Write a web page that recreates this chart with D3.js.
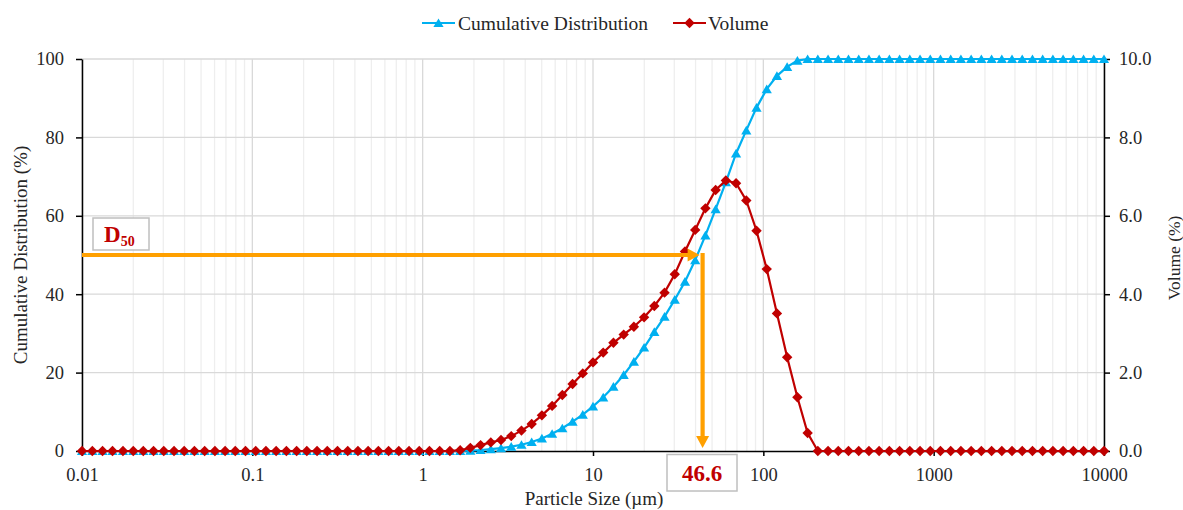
<!DOCTYPE html>
<html>
<head>
<meta charset="utf-8">
<script src="https://cdn.jsdelivr.net/npm/d3@7"></script>
<style>
  html, body { margin: 0; padding: 0; background: #ffffff; }
  svg { display: block; }
  text { font-family: "Liberation Serif", "Times New Roman", serif; fill: #262626; }
</style>
</head>
<body>
<svg id="chart" width="1183" height="510"></svg>
<script>
// ---------------- DATA ----------------
const sizes = [
  0.0100, 0.0115, 0.0132, 0.0151, 0.0174, 0.0200, 0.0229, 0.0263, 0.0302, 0.0347,
  0.0398, 0.0457, 0.0525, 0.0603, 0.0692, 0.0794, 0.0912, 0.1047, 0.1202, 0.1380,
  0.1585, 0.1820, 0.2089, 0.2399, 0.2754, 0.3162, 0.3631, 0.4169, 0.4786, 0.5495,
  0.6310, 0.7244, 0.8318, 0.9550, 1.096, 1.259, 1.445, 1.660, 1.905, 2.188,
  2.512, 2.884, 3.311, 3.802, 4.365, 5.012, 5.754, 6.607, 7.586, 8.710,
  10.00, 11.48, 13.18, 15.14, 17.38, 19.95, 22.91, 26.30, 30.20, 34.67,
  39.81, 45.71, 52.48, 60.26, 69.18, 79.43, 91.20, 104.7, 120.2, 138.0,
  158.5, 182.0, 208.9, 239.9, 275.4, 316.2, 363.1, 416.9, 478.6, 549.5,
  631.0, 724.4, 831.8, 955.0, 1096, 1259, 1445, 1660, 1905, 2188,
  2512, 2884, 3311, 3802, 4365, 5012, 5754, 6607, 7586, 8710,
  10000
];

const volume = [
  0, 0, 0, 0, 0, 0, 0, 0, 0, 0,
  0, 0, 0, 0, 0, 0, 0, 0, 0, 0,
  0, 0, 0, 0, 0, 0, 0, 0, 0, 0,
  0, 0, 0, 0, 0, 0, 0, 0.02, 0.08, 0.15,
  0.22, 0.28, 0.38, 0.52, 0.69, 0.91, 1.15, 1.43, 1.71, 1.98,
  2.26, 2.51, 2.76, 2.97, 3.17, 3.41, 3.70, 4.04, 4.51, 5.09,
  5.64, 6.19, 6.66, 6.90, 6.83, 6.39, 5.62, 4.64, 3.51, 2.39,
  1.37, 0.46, 0, 0, 0, 0, 0, 0, 0, 0,
  0, 0, 0, 0, 0, 0, 0, 0, 0, 0,
  0, 0, 0, 0, 0, 0, 0, 0, 0, 0,
  0
];

const cumulative = [
  0, 0, 0, 0, 0, 0, 0, 0, 0, 0,
  0, 0, 0, 0, 0, 0, 0, 0, 0, 0,
  0, 0, 0, 0, 0, 0, 0, 0, 0, 0,
  0, 0, 0, 0, 0, 0, 0, 0.02, 0.1, 0.25,
  0.47, 0.75, 1.1, 1.6, 2.3, 3.2, 4.4, 5.8, 7.5, 9.3,
  11.4, 13.7, 16.4, 19.4, 22.8, 26.4, 30.4, 34.3, 38.6, 43.2,
  48.7, 55.0, 61.7, 68.6, 75.9, 81.8, 87.6, 92.3, 95.7, 98.0,
  99.6, 100, 100, 100, 100, 100, 100, 100, 100, 100,
  100, 100, 100, 100, 100, 100, 100, 100, 100, 100,
  100, 100, 100, 100, 100, 100, 100, 100, 100, 100,
  100
];

const xTicks = [0.01, 0.1, 1, 10, 100, 1000, 10000];
const xTickLabels = ["0.01", "0.1", "1", "10", "100", "1000", "10000"];
const leftTicks = [0, 20, 40, 60, 80, 100];
const rightTicks = [0, 2, 4, 6, 8, 10];
const seriesNames = ["Cumulative Distribution", "Volume"];
const d50Value = 46.6;     // label value
const d50Level = 50;       // cumulative level
const d50ArrowAt = 44;     // where the drawn arrow sits on the x axis

// ---------------- LAYOUT ----------------
const L = 82, R = 1104, T = 59, B = 451;
const BLUE = "#00b0f0", RED = "#c00000", ORANGE = "#ffa000";
const FONT = '"Liberation Serif", "Times New Roman", serif';

const svg = d3.select("#chart");

const x = d3.scaleLog().domain([0.01, 10000]).range([L, R]);
const yL = d3.scaleLinear().domain([0, 100]).range([B, T]);
const yR = d3.scaleLinear().domain([0, 10]).range([B, T]);

// ---------------- GRID ----------------
const grid = svg.append("g");
const minorVals = [];
const majorVals = [];
xTicks.forEach((d, i) => {
  majorVals.push(d);
  if (i < xTicks.length - 1) for (let k = 2; k <= 9; k++) minorVals.push(d * k);
});
grid.selectAll("line.minor").data(minorVals).join("line")
  .attr("x1", d => x(d)).attr("x2", d => x(d))
  .attr("y1", T).attr("y2", B)
  .attr("stroke", "#eeeeee").attr("stroke-width", 1.3);
grid.selectAll("line.major").data(majorVals).join("line")
  .attr("x1", d => x(d)).attr("x2", d => x(d))
  .attr("y1", T).attr("y2", B)
  .attr("stroke", "#d9d9d9").attr("stroke-width", 1.3);
grid.selectAll("line.h").data(leftTicks.filter(d => d > 0)).join("line")
  .attr("x1", L).attr("x2", R)
  .attr("y1", d => yL(d)).attr("y2", d => yL(d))
  .attr("stroke", "#d9d9d9").attr("stroke-width", 1.3);

// ---------------- AXES ----------------
function styleAxis(g) {
  g.attr("font-family", FONT);
  g.selectAll("path.domain").attr("stroke", "#000").attr("stroke-width", 1.5);
  g.selectAll(".tick line").attr("stroke", "#000").attr("stroke-width", 1.5);
  g.selectAll(".tick text").attr("font-family", FONT).attr("font-size", 18.5).attr("fill", "#262626");
}

const gx = svg.append("g").attr("transform", `translate(0,${B})`)
  .call(d3.axisBottom(x).tickValues(xTicks).tickFormat((d, i) => xTickLabels[i]).tickSize(5).tickSizeOuter(0));
styleAxis(gx);
gx.selectAll(".tick text").attr("dy", null).attr("y", 30);

const gl = svg.append("g").attr("transform", `translate(${L},0)`)
  .call(d3.axisLeft(yL).tickValues(leftTicks).tickSize(6).tickSizeOuter(0).tickPadding(12));
styleAxis(gl);

const gr = svg.append("g").attr("transform", `translate(${R},0)`)
  .call(d3.axisRight(yR).tickValues(rightTicks).tickFormat(d3.format(".1f")).tickSize(6).tickSizeOuter(0).tickPadding(9));
styleAxis(gr);

// Axis titles
svg.append("text").attr("x", (L + R) / 2 + 1).attr("y", 505)
  .attr("text-anchor", "middle").attr("font-size", 19).attr("font-family", FONT)
  .text("Particle Size (\u00b5m)");
svg.append("text").attr("transform", `translate(27,${(T + B) / 2}) rotate(-90)`)
  .attr("text-anchor", "middle").attr("font-size", 19).attr("font-family", FONT)
  .text("Cumulative Distribution (%)");
svg.append("text").attr("transform", `translate(1180,258) rotate(-90)`)
  .attr("text-anchor", "middle").attr("font-size", 17.5).attr("font-family", FONT)
  .text("Volume (%)");

// ---------------- MARKERS ----------------
const triPath = "M0,-4.6L5.1,4.1L-5.1,4.1Z";
const diaPath = "M0,-5.2L5.2,0L0,5.2L-5.2,0Z";

// ---------------- SERIES ----------------
const cumData = sizes.map((s, i) => [s, cumulative[i]]);
const volData = sizes.map((s, i) => [s, volume[i]]);

const gCum = svg.append("g");
gCum.append("path").datum(cumData)
  .attr("fill", "none").attr("stroke", BLUE).attr("stroke-width", 2.2)
  .attr("d", d3.line().x(d => x(d[0])).y(d => yL(d[1])));
gCum.selectAll("path.m").data(cumData).join("path").attr("class", "m")
  .attr("d", triPath).attr("fill", BLUE)
  .attr("transform", d => `translate(${x(d[0])},${yL(d[1])})`);

const gVol = svg.append("g");
gVol.append("path").datum(volData)
  .attr("fill", "none").attr("stroke", RED).attr("stroke-width", 2.2)
  .attr("d", d3.line().x(d => x(d[0])).y(d => yR(d[1])));
gVol.selectAll("path.m").data(volData).join("path").attr("class", "m")
  .attr("d", diaPath).attr("fill", RED)
  .attr("transform", d => `translate(${x(d[0])},${yR(d[1])})`);

// ---------------- D50 ANNOTATION ----------------
const ax = x(d50ArrowAt);
const ay = yL(d50Level);
const ann = svg.append("g");
// horizontal arrow
ann.append("line").attr("x1", L).attr("x2", ax - 12).attr("y1", ay).attr("y2", ay)
  .attr("stroke", ORANGE).attr("stroke-width", 4.2);
ann.append("path")
  .attr("d", `M${ax - 3},${ay}L${ax - 15},${ay - 6.5}L${ax - 15},${ay + 6.5}Z`)
  .attr("fill", ORANGE);
// vertical arrow
ann.append("line").attr("x1", ax).attr("x2", ax).attr("y1", ay - 2).attr("y2", B - 14)
  .attr("stroke", ORANGE).attr("stroke-width", 4.2);
ann.append("path")
  .attr("d", `M${ax},${B - 3}L${ax - 6.5},${B - 15}L${ax + 6.5},${B - 15}Z`)
  .attr("fill", ORANGE);

// D50 label box
ann.append("rect").attr("x", 93).attr("y", 218).attr("width", 56).attr("height", 32)
  .attr("fill", "#fff").attr("stroke", "#bfbfbf").attr("stroke-width", 1.5);
const dText = ann.append("text").attr("x", 104).attr("y", 242)
  .attr("font-family", FONT).attr("font-weight", "bold").style("fill", RED);
dText.append("tspan").attr("font-size", 23).text("D");
dText.append("tspan").attr("font-size", 14).attr("dy", 4).text("50");

// 46.6 label box
ann.append("rect").attr("x", 667).attr("y", 454.5).attr("width", 70).attr("height", 36.5)
  .attr("fill", "#fff").attr("stroke", "#bfbfbf").attr("stroke-width", 1.5);
ann.append("text").attr("x", 702).attr("y", 481)
  .attr("text-anchor", "middle").attr("font-family", FONT).attr("font-weight", "bold")
  .attr("font-size", 23).style("fill", RED).text(d50Value.toFixed(1));

// ---------------- LEGEND ----------------
const leg = svg.append("g");
const legItems = [
  { name: seriesNames[0], color: BLUE, marker: triPath, x0: 422, tx: 458 },
  { name: seriesNames[1], color: RED, marker: diaPath, x0: 673, tx: 708 }
];
legItems.forEach(it => {
  leg.append("line").attr("x1", it.x0).attr("x2", it.x0 + 33).attr("y1", 23).attr("y2", 23)
    .attr("stroke", it.color).attr("stroke-width", 2.2);
  leg.append("path").attr("d", it.marker).attr("fill", it.color)
    .attr("transform", `translate(${it.x0 + 16.5},23)`);
  leg.append("text").attr("x", it.tx).attr("y", 29.5)
    .attr("font-family", FONT).attr("font-size", 19.5).text(it.name);
});
</script>
</body>
</html>
